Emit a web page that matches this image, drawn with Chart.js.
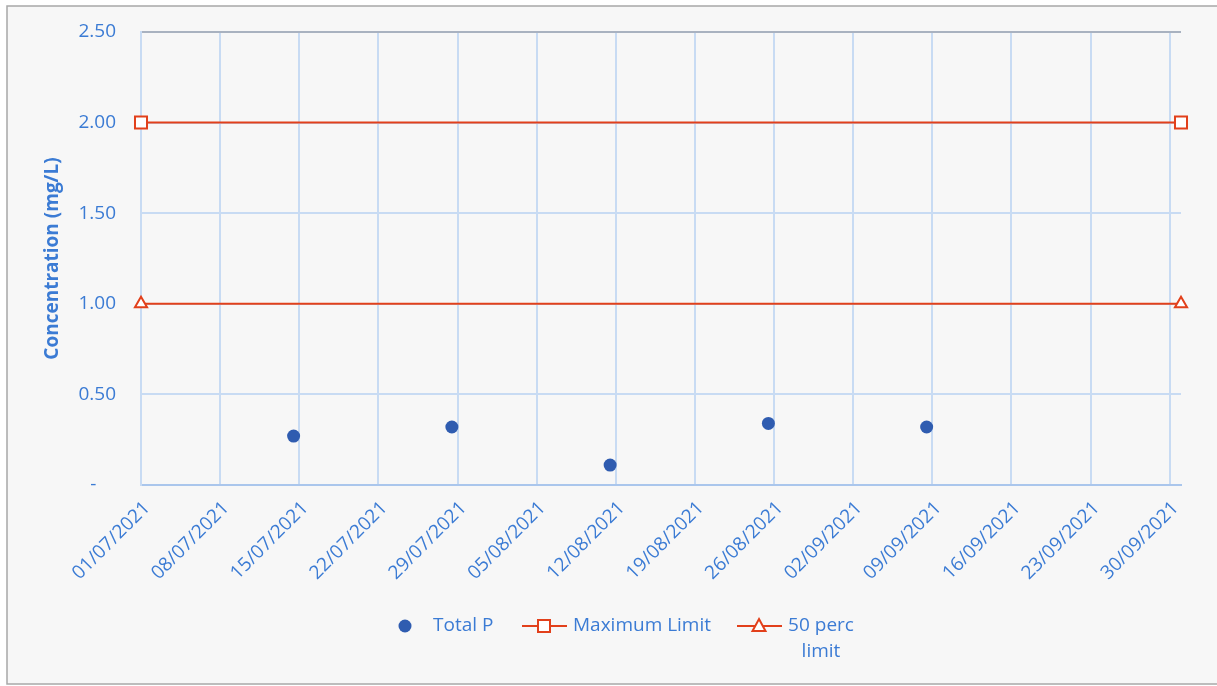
<!DOCTYPE html>
<html>
<head>
<meta charset="utf-8">
<title>Total P concentration</title>
<script src="https://cdn.jsdelivr.net/npm/chart.js@4/dist/chart.umd.min.js"></script>
<style>
  html, body { margin: 0; padding: 0; background: #ffffff; }
  #wrap { width: 1217px; height: 686px; }
</style>
</head>
<body>
<div id="wrap"><canvas id="chart" width="1217" height="686"></canvas></div>
<script>
// Sample dates and measured Total P (mg/L)
const sampleDates = ['14/07/2021 12:00', '28/07/2021 12:00', '11/08/2021 12:00', '25/08/2021 12:00', '08/09/2021 12:00'];
const totalP = [0.27, 0.32, 0.11, 0.34, 0.32];

// Limit lines span the whole quarter
const limitDates = ['01/07/2021', '01/10/2021'];
const maximumLimit = [2.0, 2.0];
const fiftyPercLimit = [1.0, 1.0];

// Weekly date ticks on the x axis
const xTickLabels = ['01/07/2021', '08/07/2021', '15/07/2021', '22/07/2021', '29/07/2021', '05/08/2021',
  '12/08/2021', '19/08/2021', '26/08/2021', '02/09/2021', '09/09/2021', '16/09/2021', '23/09/2021', '30/09/2021'];
const yTickValues = [0, 0.5, 1.0, 1.5, 2.0, 2.5];

const seriesNames = ['Total P', 'Maximum Limit', '50 perc limit'];

const FONT = "'Open Sans', sans-serif";
const BLUE_TEXT = '#3b7bd4';
const POINT_BLUE = '#2f5cb0';
const LIMIT_RED = '#e2401b';
const GRID = '#c8dbf3';

// 'DD/MM/YYYY [HH:MM]' -> ms timestamp (UTC)
function toMs(s) {
  const [d, t] = s.split(' ');
  const [dd, mm, yy] = d.split('/').map(Number);
  let h = 0, mi = 0;
  if (t) { [h, mi] = t.split(':').map(Number); }
  return Date.UTC(yy, mm - 1, dd, h, mi);
}

const pts = (dates, vals) => dates.map((d, i) => ({ x: toMs(d), y: vals[i] }));

const frame = {
  id: 'frame',
  beforeDraw(chart) {
    const c = chart.ctx;
    c.save();
    c.fillStyle = '#ffffff';
    c.fillRect(0, 0, chart.width, chart.height);
    c.fillStyle = '#f7f7f7';
    c.fillRect(7, 6, chart.width - 7, chart.height - 8);
    c.strokeStyle = '#a8a8a8';
    c.lineWidth = 1.5;
    c.strokeRect(7, 6, chart.width + 10, chart.height - 8);
    c.restore();
  }
};

// Legend drawn beneath the axis, last label wrapped on two lines
const legendBox = {
  id: 'legendBox',
  afterDraw(chart) {
    const c = chart.ctx;
    c.save();
    c.font = '19px ' + FONT;
    c.textBaseline = 'middle';
    const y = 626;
    // Total P
    c.beginPath();
    c.arc(405, y, 6.5, 0, Math.PI * 2);
    c.fillStyle = POINT_BLUE;
    c.fill();
    c.fillStyle = BLUE_TEXT;
    c.textAlign = 'left';
    c.fillText(seriesNames[0], 433, y);
    // Maximum Limit
    c.strokeStyle = LIMIT_RED;
    c.lineWidth = 2;
    c.beginPath(); c.moveTo(522, y); c.lineTo(567, y); c.stroke();
    c.fillStyle = '#ffffff';
    c.fillRect(538, y - 6, 12, 12);
    c.strokeRect(538, y - 6, 12, 12);
    c.fillStyle = BLUE_TEXT;
    c.fillText(seriesNames[1], 573, y);
    // 50 perc limit
    c.beginPath(); c.moveTo(737, y); c.lineTo(782, y); c.stroke();
    c.beginPath();
    c.moveTo(759, y - 7); c.lineTo(765.5, y + 5); c.lineTo(752.5, y + 5); c.closePath();
    c.fillStyle = '#ffffff'; c.fill(); c.stroke();
    c.fillStyle = BLUE_TEXT;
    c.textAlign = 'center';
    const words = seriesNames[2].split(' ');
    c.fillText(words.slice(0, 2).join(' '), 821, y);
    c.fillText(words.slice(2).join(' '), 821, y + 26);
    c.restore();
  }
};

new Chart(document.getElementById('chart'), {
  type: 'line',
  data: {
    datasets: [
      {
        label: seriesNames[0],
        data: pts(sampleDates, totalP),
        showLine: false,
        pointStyle: 'circle',
        pointRadius: 6.5,
        pointBackgroundColor: POINT_BLUE,
        pointBorderColor: POINT_BLUE,
        pointBorderWidth: 0,
        clip: false
      },
      {
        label: seriesNames[1],
        data: pts(limitDates, maximumLimit),
        borderColor: LIMIT_RED,
        borderWidth: 2,
        pointStyle: 'rect',
        pointRadius: 8.5,
        pointBackgroundColor: '#ffffff',
        pointBorderColor: LIMIT_RED,
        pointBorderWidth: 2,
        clip: false
      },
      {
        label: seriesNames[2],
        data: pts(limitDates, fiftyPercLimit),
        borderColor: LIMIT_RED,
        borderWidth: 2,
        pointStyle: 'triangle',
        pointRadius: 7,
        pointBackgroundColor: '#ffffff',
        pointBorderColor: LIMIT_RED,
        pointBorderWidth: 2,
        clip: false
      }
    ]
  },
  options: {
    responsive: false,
    animation: false,
    layout: { padding: { left: 0, top: 32, right: 36, bottom: 0 } },
    plugins: { legend: { display: false }, tooltip: { enabled: false } },
    scales: {
      x: {
        type: 'linear',
        min: toMs(limitDates[0]),
        max: toMs(limitDates[1]),
        afterBuildTicks(scale) {
          scale.ticks = xTickLabels.map(l => ({ value: toMs(l) }));
        },
        afterFit(scale) {
          scale.height = 201;
          scale.paddingLeft = 0;
          scale.paddingRight = 0;
        },
        grid: { color: GRID, lineWidth: 2, drawTicks: false },
        border: { color: '#aac6ec', width: 2 },
        ticks: {
          autoSkip: false,
          minRotation: 45,
          maxRotation: 45,
          padding: 12,
          labelOffset: 6,
          color: BLUE_TEXT,
          font: { family: FONT, size: 19 },
          callback: (v, i) => xTickLabels[i]
        }
      },
      y: {
        min: 0,
        max: 2.5,
        afterBuildTicks(scale) {
          scale.ticks = yTickValues.map(v => ({ value: v }));
        },
        afterFit(scale) {
          scale.width = 141;
          scale.paddingTop = 0;
          scale.paddingBottom = 0;
        },
        grid: {
          color: ctx => (ctx.tick && ctx.tick.value === 2.5) ? '#a9b2c0' : GRID,
          lineWidth: 2,
          drawTicks: false
        },
        border: { color: GRID, width: 2 },
        ticks: {
          padding: 25,
          color: BLUE_TEXT,
          font: { family: FONT, size: 19 },
          callback: v => v === 0 ? '-    ' : v.toFixed(2)
        },
        title: {
          display: true,
          text: 'Concentration (mg/L)',
          color: BLUE_TEXT,
          font: { family: FONT, size: 19, weight: 'bold' },
          padding: { top: 41, bottom: 0 }
        }
      }
    }
  },
  plugins: [frame, legendBox]
});
</script>
</body>
</html>
